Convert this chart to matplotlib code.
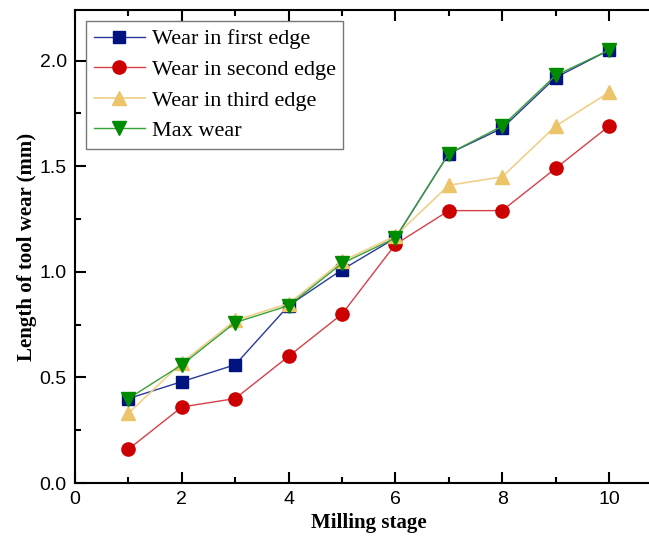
import matplotlib
matplotlib.use('Agg')
from matplotlib import pyplot as plt
from matplotlib.ticker import MultipleLocator

# Milling stages and measured wear (mm)
stages = [1, 2, 3, 4, 5, 6, 7, 8, 9, 10]
firstEdge = [0.40, 0.48, 0.56, 0.84, 1.01, 1.16, 1.56, 1.68, 1.92, 2.05]
secondEdge = [0.16, 0.36, 0.40, 0.60, 0.80, 1.13, 1.29, 1.29, 1.49, 1.69]
thirdEdge = [0.33, 0.57, 0.77, 0.85, 1.05, 1.17, 1.41, 1.45, 1.69, 1.85]
maxWear = [0.40, 0.56, 0.76, 0.84, 1.04, 1.16, 1.56, 1.69, 1.93, 2.05]

fig = plt.figure(figsize=(6.49, 5.38), dpi=100)
ax = fig.add_axes([0.1156, 0.1022, 0.905, 0.8792])

ax.plot(stages, firstEdge, color='#2a3a9a', lw=1, marker='s', ms=8,
        mfc='#00137f', mec='#00137f', label='Wear in first edge')
ax.plot(stages, secondEdge, color='#d5404a', lw=1, marker='o', ms=9.5,
        mfc='#cc0000', mec='#cc0000', label='Wear in second edge')
ax.plot(stages, thirdEdge, color='#f0d08a', lw=1.2, marker='^', ms=10,
        mfc='#ecc46a', mec='#ecc46a', label='Wear in third edge')
ax.plot(stages, maxWear, color='#3aa03a', lw=1, marker='v', ms=10,
        mfc='#008c00', mec='#008c00', label='Max wear')

ax.set_xlim(0, 11)
ax.set_ylim(0, 2.24)
ax.xaxis.set_major_locator(MultipleLocator(2))
ax.xaxis.set_minor_locator(MultipleLocator(1))
ax.yaxis.set_major_locator(MultipleLocator(0.5))
ax.yaxis.set_minor_locator(MultipleLocator(0.25))
ax.xaxis.set_major_formatter(lambda v, p: f'{v:.0f}')
ax.yaxis.set_major_formatter(lambda v, p: f'{v:.1f}')

ax.tick_params(which='both', direction='in', top=True, right=True, width=1.5)
ax.tick_params(which='major', length=8, labelsize=14, pad=6)
ax.tick_params(which='minor', length=4)
for lab in ax.get_xticklabels() + ax.get_yticklabels():
    lab.set_family('Liberation Sans')
for s in ax.spines.values():
    s.set_linewidth(1.5)

ax.set_xlabel('Milling stage', family='Liberation Serif', fontweight='bold',
              fontsize=15, labelpad=3)
ax.set_ylabel('Length of tool wear (mm)', family='Liberation Serif',
              fontweight='bold', fontsize=15, labelpad=2)

leg = ax.legend(loc='upper left', prop={'family': 'Liberation Serif', 'size': 16},
                frameon=True, fancybox=False, edgecolor='#555555',
                handlelength=2.3, handletextpad=0.3, labelspacing=0.45,
                borderpad=0.35, borderaxespad=0.5)
leg.get_frame().set_linewidth(1)

fig.savefig('out.png', dpi=100)
